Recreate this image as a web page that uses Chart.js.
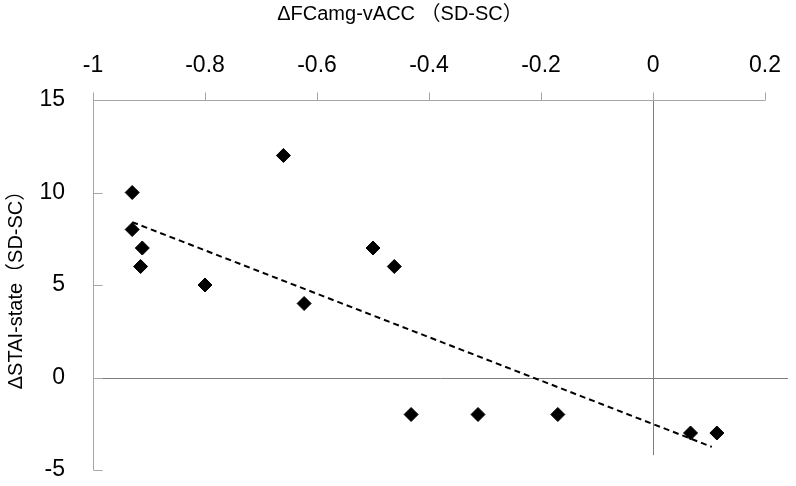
<!DOCTYPE html>
<html lang="ja">
<head>
<meta charset="UTF-8">
<title>ΔFCamg-vACC vs ΔSTAI-state</title>
<script src="https://cdn.jsdelivr.net/npm/chart.js"></script>
<style>
  html, body { margin: 0; padding: 0; background: #fff; }
  canvas { display: block; }
</style>
</head>
<body>
<canvas id="chart" width="796" height="486"></canvas>
<script>
// values
const xValues = [-0.93, -0.93, -0.912, -0.915, -0.80, -0.66, -0.623, -0.50, -0.462, -0.432, -0.3125, -0.17, 0.067, 0.114];
const yValues = [10, 8, 7, 6, 5, 12, 4, 7, 6, -2, -2, -2, -3, -3];

// dashed trend line, end points as drawn
const trendX = [-0.93, 0.105];
const trendY = [8.4, -3.75];

const xTicks = [-1, -0.8, -0.6, -0.4, -0.2, 0, 0.2];
const xTickLabels = ['-1', '-0.8', '-0.6', '-0.4', '-0.2', '0', '0.2'];
const yTicks = [-5, 0, 5, 10, 15];
const yTickLabels = ['-5', '0', '5', '10', '15'];

const xTitle = 'ΔFCamg-vACC （SD-SC）';
const yTitle = 'ΔSTAI-state（SD-SC）';

const FONT = "'Liberation Sans', 'Noto Sans CJK JP', sans-serif";

// axis lines drawn Excel-style: ticks up on the top axis, ticks inward on the left one
const axisLines = {
  id: 'axisLines',
  beforeDatasetsDraw(chart) {
    const { ctx, chartArea, scales: { x, y } } = chart;
    const left = Math.round(x.getPixelForValue(xTicks[0])) + 0.5;
    const right = x.getPixelForValue(xTicks[xTicks.length - 1]);
    const top = Math.round(chartArea.top) + 0.5;
    const bottom = chartArea.bottom;
    const seg = (a, b, c, d) => { ctx.beginPath(); ctx.moveTo(a, b); ctx.lineTo(c, d); ctx.stroke(); };

    ctx.save();
    ctx.lineWidth = 1;

    // crossing lines at 0
    ctx.strokeStyle = '#7f7f7f';
    const yz = Math.round(y.getPixelForValue(0)) + 0.5;
    seg(left, yz, chartArea.right, yz);
    const xz = Math.round(x.getPixelForValue(0)) + 0.5;
    seg(xz, top, xz, y.getPixelForValue(-4.2));

    ctx.strokeStyle = '#a6a6a6';
    seg(left, top, right, top);
    xTicks.forEach(v => {
      const px = Math.round(x.getPixelForValue(v)) + 0.5;
      seg(px, top - 8, px, top);
    });
    seg(left, top, left, bottom);
    yTicks.forEach(v => {
      const py = Math.round(y.getPixelForValue(v)) + 0.5;
      seg(left, py, left + 9, py);
    });
    ctx.restore();
  }
};

new Chart(document.getElementById('chart'), {
  type: 'scatter',
  data: {
    datasets: [
      {
        label: 'ΔSTAI-state',
        data: xValues.map((v, i) => ({ x: v, y: yValues[i] })),
        pointStyle: 'rectRot',
        pointRadius: 7,
        pointBorderWidth: 1,
        backgroundColor: '#000',
        borderColor: '#000'
      },
      {
        label: 'trend',
        type: 'line',
        data: trendX.map((v, i) => ({ x: v, y: trendY[i] })),
        borderColor: '#000',
        borderWidth: 2,
        borderDash: [6, 4],
        pointRadius: 0,
        fill: false
      }
    ]
  },
  options: {
    responsive: false,
    devicePixelRatio: 1,
    animation: false,
    layout: { padding: { top: 0, left: 12, right: 8, bottom: 16 } },
    plugins: {
      legend: { display: false },
      tooltip: { enabled: false },
      title: {
        display: true,
        text: xTitle,
        color: '#000',
        font: { family: FONT, size: 20, weight: 'normal' },
        padding: { top: 2, bottom: 4 }
      }
    },
    scales: {
      x: {
        type: 'linear',
        position: 'top',
        min: -1,
        max: 0.241,
        afterBuildTicks: s => { s.ticks = xTicks.map(v => ({ value: v })); },
        afterFit: s => { s.height = 70; },
        border: { display: false },
        grid: { display: true, drawOnChartArea: false, drawTicks: true, tickLength: 21, color: 'rgba(0,0,0,0)' },
        ticks: {
          padding: 0,
          maxRotation: 0,
          autoSkip: false,
          color: '#000',
          font: { family: FONT, size: 23 },
          callback: (v, i) => xTickLabels[i]
        }
      },
      y: {
        type: 'linear',
        min: -5,
        max: 15,
        afterBuildTicks: s => { s.ticks = yTicks.map(v => ({ value: v })); },
        afterFit: s => { s.width = 81; },
        border: { display: false },
        grid: { display: true, drawOnChartArea: false, drawTicks: true, tickLength: 28, color: 'rgba(0,0,0,0)' },
        ticks: {
          padding: 0,
          autoSkip: false,
          color: '#000',
          font: { family: FONT, size: 23 },
          callback: (v, i) => yTickLabels[i]
        },
        title: {
          display: true,
          text: yTitle,
          color: '#000',
          font: { family: FONT, size: 20 },
          padding: { top: -8, bottom: 0 }
        }
      }
    }
  },
  plugins: [axisLines]
});
</script>
</body>
</html>
